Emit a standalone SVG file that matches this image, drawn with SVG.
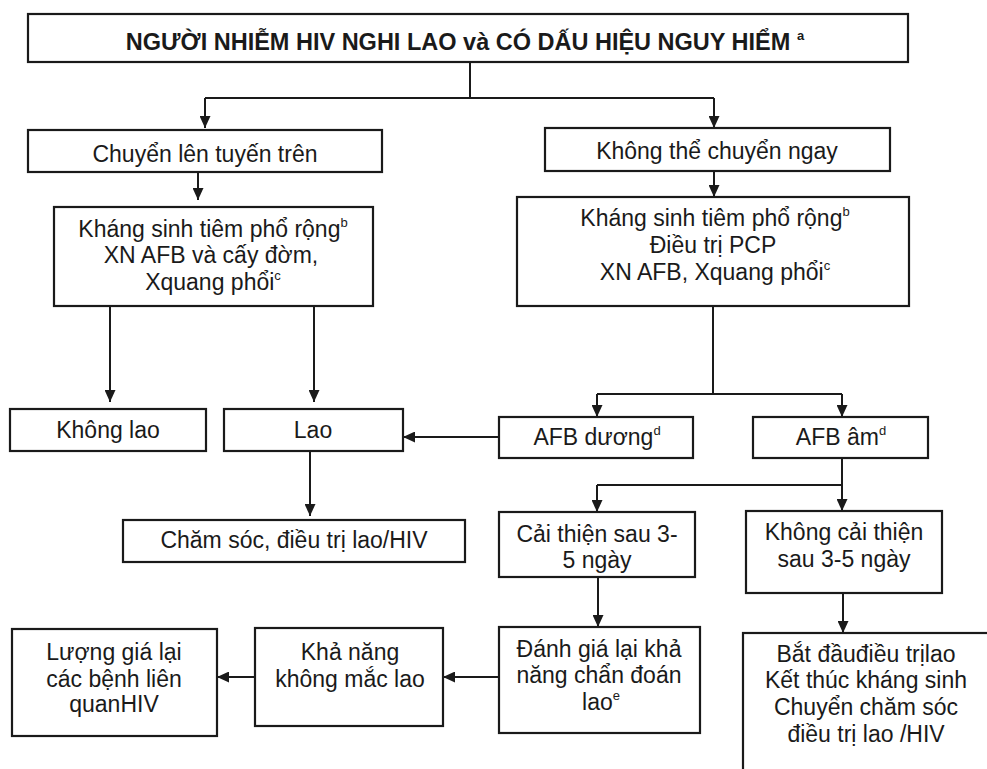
<svg xmlns="http://www.w3.org/2000/svg" width="987" height="769" viewBox="0 0 987 769">
<defs>
<marker id="arr" markerUnits="userSpaceOnUse" markerWidth="12" markerHeight="11" refX="12" refY="5.5" orient="auto">
<path d="M0,0 L12,5.5 L0,11 z" fill="#1a1a1a"/>
</marker>
<style>
.box{fill:#fff;stroke:#1a1a1a;stroke-width:2.2}
.t{font-family:"Liberation Sans",Arial,Helvetica,sans-serif;font-size:23px;fill:#1a1a1a;text-anchor:middle}
.b{font-weight:bold;font-size:23.5px}
.sup{font-size:13px}
.c{fill:none;stroke:#1a1a1a;stroke-width:2}
.a{marker-end:url(#arr)}
</style>
</defs>
<rect width="987" height="769" fill="#fff"/>
<g id="connectors">
<path class="c" d="M470,62 V98 M205,98 H714"/>
<path class="c a" d="M205,98 V128"/>
<path class="c a" d="M714,98 V128"/>
<path class="c a" d="M198,172 V200"/>
<path class="c a" d="M714,171 V197"/>
<path class="c a" d="M110,306 V402"/>
<path class="c a" d="M314,306 V402"/>
<path class="c a" d="M499,437 H403"/>
<path class="c a" d="M310,451 V516"/>
<path class="c" d="M713,306 V394 M597,394 H842"/>
<path class="c a" d="M597,394 V417"/>
<path class="c a" d="M842,394 V417"/>
<path class="c" d="M842,458 V485 M597,485 H842"/>
<path class="c a" d="M597,485 V512"/>
<path class="c a" d="M842,485 V511"/>
<path class="c a" d="M598,577 V627"/>
<path class="c a" d="M843,593 V633"/>
<path class="c a" d="M499,677 H443"/>
<path class="c a" d="M255,677 H217"/>
</g>
<g id="n-top">
<rect class="box" x="28" y="14" width="880" height="48"/>
<text class="t b" x="465" y="50">NGƯỜI NHIỄM HIV NGHI LAO và CÓ DẤU HIỆU NGUY HIỂM <tspan class="sup" dy="-10">a</tspan></text>
</g>
<g id="n-chuyen">
<rect class="box" x="28" y="130" width="354" height="42"/>
<text class="t" x="205" y="162">Chuyển lên tuyến trên</text>
</g>
<g id="n-khongthe">
<rect class="box" x="545" y="128" width="345" height="43"/>
<text class="t" x="717" y="159">Không thể chuyển ngay</text>
</g>
<g id="n-ks-left">
<rect class="box" x="54" y="207" width="319" height="99"/>
<text class="t" x="213" y="237">Kháng sinh tiêm phổ rộng<tspan class="sup" dy="-10">b</tspan></text>
<text class="t" x="211" y="263">XN AFB và cấy đờm,</text>
<text class="t" x="213" y="290">Xquang phổi<tspan class="sup" dy="-10">c</tspan></text>
</g>
<g id="n-ks-right">
<rect class="box" x="517" y="197" width="392" height="109"/>
<text class="t" x="715" y="226">Kháng sinh tiêm phổ rộng<tspan class="sup" dy="-10">b</tspan></text>
<text class="t" x="713" y="253">Điều trị PCP</text>
<text class="t" x="715" y="280">XN AFB, Xquang phổi<tspan class="sup" dy="-10">c</tspan></text>
</g>
<g id="n-khonglao">
<rect class="box" x="10" y="409" width="196" height="42"/>
<text class="t" x="108" y="438">Không lao</text>
</g>
<g id="n-lao">
<rect class="box" x="224" y="409" width="179" height="42"/>
<text class="t" x="313" y="438">Lao</text>
</g>
<g id="n-chamsoc">
<rect class="box" x="123" y="520" width="342" height="42"/>
<text class="t" x="294" y="548">Chăm sóc, điều trị lao/HIV</text>
</g>
<g id="n-afbduong">
<rect class="box" x="499" y="417" width="194" height="41"/>
<text class="t" x="597" y="445">AFB dương<tspan class="sup" dy="-10">d</tspan></text>
</g>
<g id="n-afbam">
<rect class="box" x="753" y="417" width="175" height="41"/>
<text class="t" x="841" y="445">AFB âm<tspan class="sup" dy="-10">d</tspan></text>
</g>
<g id="n-caithien">
<rect class="box" x="499" y="512" width="196" height="65"/>
<text class="t" x="597" y="542">Cải thiện sau 3-</text>
<text class="t" x="597" y="568">5 ngày</text>
</g>
<g id="n-khongcaithien">
<rect class="box" x="746" y="511" width="196" height="82"/>
<text class="t" x="844" y="540">Không cải thiện</text>
<text class="t" x="844" y="567">sau 3-5 ngày</text>
</g>
<g id="n-danhgia">
<rect class="box" x="499" y="627" width="201" height="106"/>
<text class="t" x="599" y="657">Đánh giá lại khả</text>
<text class="t" x="599" y="683">năng chẩn đoán</text>
<text class="t" x="601" y="710">lao<tspan class="sup" dy="-10">e</tspan></text>
</g>
<g id="n-batdau">
<rect class="box" x="743" y="633" width="270" height="160"/>
<text class="t" x="866" y="662">Bắt đầuđiều trịlao</text>
<text class="t" x="866" y="688">Kết thúc kháng sinh</text>
<text class="t" x="866" y="715">Chuyển chăm sóc</text>
<text class="t" x="866" y="742">điều trị lao /HIV</text>
</g>
<g id="n-khanang">
<rect class="box" x="255" y="628" width="188" height="98"/>
<text class="t" x="350" y="660">Khả năng</text>
<text class="t" x="350" y="687">không mắc lao</text>
</g>
<g id="n-luonggia">
<rect class="box" x="12" y="629" width="205" height="107"/>
<text class="t" x="114" y="660">Lượng giá lại</text>
<text class="t" x="114" y="687">các bệnh liên</text>
<text class="t" x="114" y="712">quanHIV</text>
</g>
</svg>
